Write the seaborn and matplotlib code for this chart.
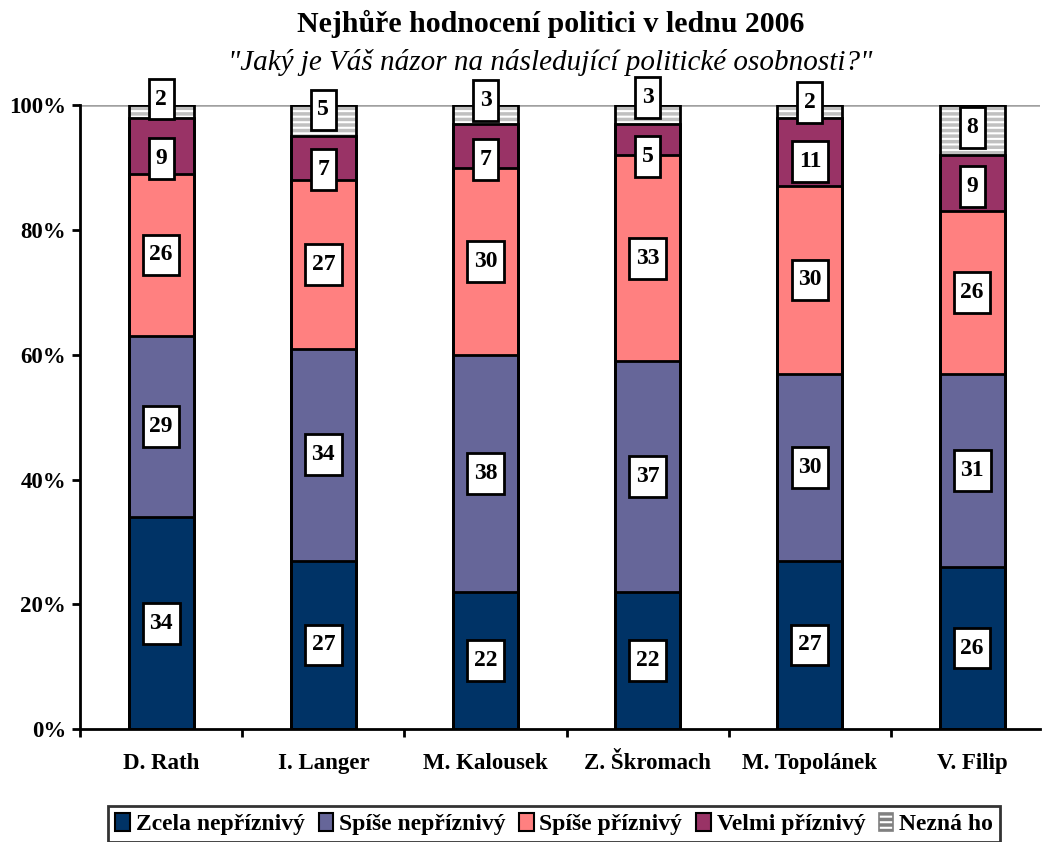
import matplotlib
matplotlib.use('Agg')
import matplotlib.pyplot as plt
from matplotlib.patches import Patch
from matplotlib.path import Path
import pandas as pd
import seaborn as sns

politicians = ['D. Rath', 'I. Langer', 'M. Kalousek', 'Z. Škromach', 'M. Topolánek', 'V. Filip']
series_names = ['Zcela nepříznivý', 'Spíše nepříznivý', 'Spíše příznivý', 'Velmi příznivý', 'Nezná ho']
zcela_neprizn = [34, 27, 22, 22, 27, 26]
spise_neprizn = [29, 34, 38, 37, 30, 31]
spise_prizn = [26, 27, 30, 33, 30, 26]
velmi_prizn = [9, 7, 7, 5, 11, 9]
nezna = [2, 5, 3, 3, 2, 8]
y_ticks = [0, 20, 40, 60, 80, 100]
y_tick_labels = ['0%', '20%', '40%', '60%', '80%', '100%']
title = 'Nejhůře hodnocení politici v lednu 2006'
subtitle = '"Jaký je Váš názor na následující politické osobnosti?"'

colors = ['#003366', '#666699', '#FF8080', '#993366', '#FFFFFF']

sns.set_theme(style='white')
plt.rcParams['font.family'] = ['Liberation Serif', 'DejaVu Serif']
plt.rcParams['hatch.linewidth'] = 2.5
for k in ['text.color', 'xtick.color', 'ytick.color', 'axes.labelcolor']:
    plt.rcParams[k] = 'black'


def tall_box(x0, y0, width, height, mutation_size):
    # label box: narrow on the sides, tall on top and bottom
    px = 0.28 * mutation_size
    py = 0.42 * mutation_size
    x0, y0 = x0 - px, y0 - py
    x1, y1 = x0 + width + 2 * px, y0 + height + 2 * py
    return Path([(x0, y0), (x1, y0), (x1, y1), (x0, y1), (x0, y0)], closed=True)


values = [zcela_neprizn, spise_neprizn, spise_prizn, velmi_prizn, nezna]
df = pd.DataFrame({'politik': politicians})
cum = [0] * len(politicians)
for name, vals in zip(series_names, values):
    df[name] = vals
    cum = [c + v for c, v in zip(cum, vals)]
    df[name + '_cum'] = cum

fig = plt.figure(figsize=(10.46, 8.42), dpi=100)
ax = fig.add_axes([0.0765, 0.134, 0.918, 0.741])

ax.axhline(100, color='#a0a0a0', lw=1.8, zorder=0)

# draw cumulative bars from the top layer down
bw = 0.4
sns.barplot(data=df, x='politik', y='Nezná ho_cum', order=politicians, ax=ax,
            color='white', saturation=1, width=bw, errorbar=None,
            edgecolor='#c0c0c0', linewidth=0, hatch='---', zorder=1)
for name, col in reversed(list(zip(series_names[:-1], colors[:-1]))):
    sns.barplot(data=df, x='politik', y=name + '_cum', order=politicians, ax=ax,
                color=col, saturation=1, width=bw, errorbar=None,
                edgecolor='black', linewidth=2, zorder=2)
sns.barplot(data=df, x='politik', y='Nezná ho_cum', order=politicians, ax=ax,
            color='black', saturation=1, width=bw, errorbar=None, fill=False,
            edgecolor='black', linewidth=2, zorder=2)

# label positions: segment middles, pushed apart where boxes would overlap
min_sep = 9.5
for i in range(len(politicians)):
    ys = [df[name + '_cum'][i] - df[name][i] / 2 for name in series_names]
    for _ in range(5):
        for j in range(len(ys) - 1, 0, -1):
            gap = ys[j] - ys[j - 1]
            if gap < min_sep:
                mid = (ys[j] + ys[j - 1]) / 2
                ys[j] = mid + min_sep / 2
                ys[j - 1] = mid - min_sep / 2
    for name, y in zip(series_names, ys):
        ax.text(i, y, str(df[name][i]), ha='center', va='center', fontsize=17,
                fontweight='bold', zorder=5,
                bbox=dict(boxstyle=tall_box, facecolor='white',
                          edgecolor='black', linewidth=2))

ax.set_xlim(-0.5, 5.42)
ax.set_ylim(0, 100)
ax.set_yticks(y_ticks)
ax.set_yticklabels(y_tick_labels, fontsize=16.5, fontweight='bold')
ax.set_xticks(range(len(politicians)))
ax.set_xticklabels(politicians, fontsize=16.5, fontweight='bold')
ax.set_xticks([i - 0.5 for i in range(len(politicians))], minor=True)
ax.tick_params(axis='x', which='major', length=0, pad=17)
ax.tick_params(axis='x', which='minor', length=6, width=2, direction='out', color='black', bottom=True)
ax.tick_params(axis='y', length=6, width=2, direction='out', color='black', left=True, pad=4)
ax.set_xlabel('')
ax.set_ylabel('')
for s in ['top', 'right']:
    ax.spines[s].set_visible(False)
for s in ['left', 'bottom']:
    ax.spines[s].set_color('black')
    ax.spines[s].set_linewidth(2)

fig.text(0.526, 0.972, title, ha='center', va='center', fontsize=21.5, fontweight='bold')
fig.text(0.526, 0.926, subtitle, ha='center', va='center', fontsize=21, style='italic')

handles = []
for name, col in zip(series_names, colors):
    if name == 'Nezná ho':
        handles.append(Patch(facecolor='white', edgecolor='#808080', hatch='---', linewidth=1.2, label=name))
    else:
        handles.append(Patch(facecolor=col, edgecolor='black', linewidth=1.5, label=name))
leg = fig.legend(handles=handles, loc='center', bbox_to_anchor=(0.53, 0.0214), ncol=5,
                 frameon=True, fancybox=False, edgecolor='black', handlelength=0.6,
                 handleheight=0.8, handletextpad=0.25, columnspacing=0.6, borderpad=0.3,
                 prop={'weight': 'bold', 'size': 17})
leg.get_frame().set_linewidth(2)

fig.savefig('out.png', dpi=100)
